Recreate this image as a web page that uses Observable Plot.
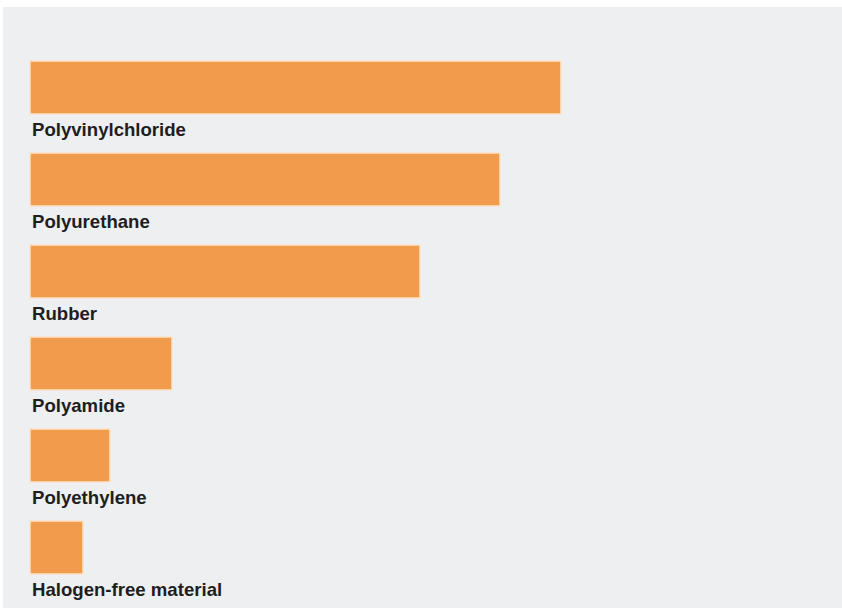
<!DOCTYPE html>
<html>
<head>
<meta charset="utf-8">
<script src="https://cdn.jsdelivr.net/npm/d3@7"></script>
<script src="https://cdn.jsdelivr.net/npm/@observablehq/plot@0.6"></script>
<style>
  html, body { margin: 0; padding: 0; background: #ffffff; }
  #wrap { padding: 7px 0 5px 3px; width: 839px; }
  #wrap svg { display: block; background: #eeeff1; }
</style>
</head>
<body>
<div id="wrap"></div>
<script>
const materials = ["Polyvinylchloride", "Polyurethane", "Rubber", "Polyamide", "Polyethylene", "Halogen-free material"];
const values = [531, 470, 390, 142, 80, 53];

const data = materials.map((m, i) => ({material: m, value: values[i]}));

const chart = Plot.plot({
  width: 839,
  height: 601,
  marginLeft: 27,
  marginRight: 0,
  marginTop: 0,
  marginBottom: 0,
  style: {fontFamily: "Liberation Sans, Arial, Helvetica, sans-serif", background: "#eeeff1"},
  x: {domain: [0, 812], axis: null},
  y: {domain: materials, range: [53, 568], paddingInner: 0.426, paddingOuter: 0, axis: null},
  marks: [
    Plot.barX(data, {
      x: "value", y: "material",
      fill: "#f09c4c",
      stroke: "#fbe4c8", strokeWidth: 1.5
    }),
    Plot.text(data, {
      x: 0, y: "material", text: "material",
      dx: 1.5, dy: 42,
      textAnchor: "start",
      fontWeight: "bold",
      fontSize: 18.6,
      fill: "#1e1e1e"
    })
  ]
});
document.getElementById("wrap").appendChild(chart);
</script>
</body>
</html>
